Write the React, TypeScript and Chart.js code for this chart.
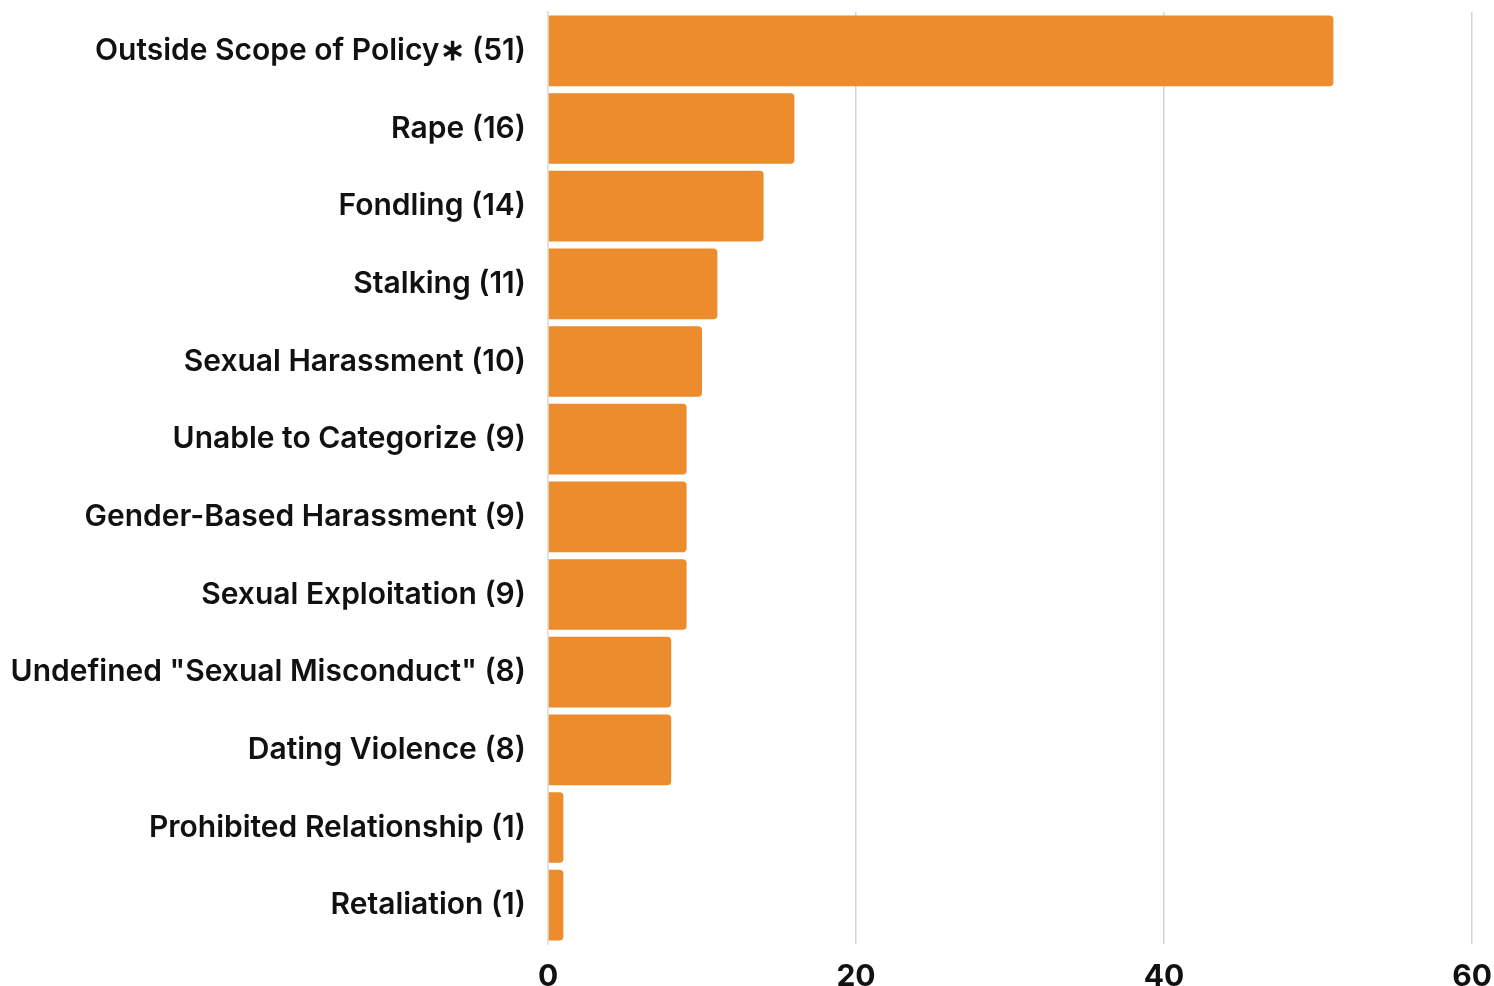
import React, { useEffect, useRef } from "react";
import { Chart, registerables } from "chart.js";

Chart.register(...registerables);

const categories = [
  "Outside Scope of Policy\u2217 (51)",
  "Rape (16)",
  "Fondling (14)",
  "Stalking (11)",
  "Sexual Harassment (10)",
  "Unable to Categorize (9)",
  "Gender-Based Harassment (9)",
  "Sexual Exploitation (9)",
  "Undefined \"Sexual Misconduct\" (8)",
  "Dating Violence (8)",
  "Prohibited Relationship (1)",
  "Retaliation (1)",
];
const counts = [51, 16, 14, 11, 10, 9, 9, 9, 8, 8, 1, 1];
const xTicks = [0, 20, 40, 60];

export default function App() {
  const ref = useRef<HTMLCanvasElement | null>(null);
  useEffect(() => {
    if (!ref.current) return;
    const chart = new Chart(ref.current, {
      type: "bar",
      data: {
        labels: categories,
        datasets: [
          {
            data: counts,
            backgroundColor: "#EC8C2C",
            borderRadius: 4,
            barPercentage: 0.91,
            categoryPercentage: 1,
          },
        ],
      },
      options: {
        indexAxis: "y",
        animation: false,
        responsive: false,
        maintainAspectRatio: false,
        layout: { padding: { top: 12, right: 0, left: 0, bottom: 0 } },
        plugins: { legend: { display: false }, tooltip: { enabled: false } },
        scales: {
          x: {
            min: 0,
            max: 60,
            afterBuildTicks: (axis: any) => {
              axis.ticks = xTicks.map((v) => ({ value: v }));
            },
            afterFit: (axis: any) => {
              axis.paddingLeft = 0;
              axis.paddingRight = 22;
              axis.height = 42;
            },
            grid: { color: "#d4d4d4", lineWidth: 1.5, drawTicks: false },
            border: { display: false },
            ticks: {
              color: "#111",
              padding: 15,
              font: { family: "Inter", size: 30, weight: 700 },
            },
          },
          y: {
            afterFit: (axis: any) => {
              axis.paddingTop = 0;
              axis.paddingBottom = 0;
              axis.width = 548;
            },
            grid: { display: false, drawTicks: false },
            border: { display: true, color: "#e0e0e0", width: 1.5 },
            ticks: {
              color: "#111",
              padding: 22,
              font: { family: "Inter", size: 30, weight: 600 },
            },
          },
        },
      },
    });
    return () => chart.destroy();
  }, []);
  return (
    <div style={{ position: "fixed", left: 0, top: 0, width: 1494, height: 986, background: "#fff" }}>
      <canvas ref={ref} width={1494} height={986} style={{ width: 1494, height: 986 }} />
    </div>
  );
}
